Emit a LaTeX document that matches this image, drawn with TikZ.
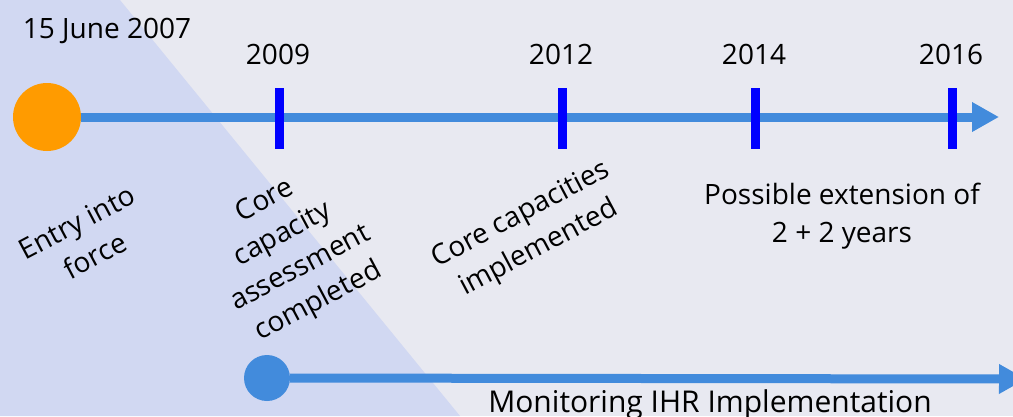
\documentclass[tikz,border=0pt]{standalone}
\usepackage{fontspec}
\setmainfont{Open Sans}
\usetikzlibrary{arrows.meta}

\definecolor{bgGrey}{HTML}{E8E9F1}
\definecolor{bgLilac}{HTML}{D1D8F2}
\definecolor{lineBlue}{HTML}{428BDC}
\definecolor{dotOrange}{HTML}{FF9B00}
\definecolor{tickBlue}{HTML}{0000FF}

\begin{document}
\begin{tikzpicture}[x=1pt,y=-1pt,
  Dot/.style   = {circle, inner sep=0pt, minimum size=#1},
  Tick/.style  = {rectangle, fill=tickBlue, inner sep=0pt,
                  minimum width=9pt, minimum height=61pt},
  Year/.style  = {anchor=base, inner sep=0pt, font=\fontsize{28}{38}\selectfont},
  Note/.style  = {align=center, inner sep=0pt, font=\fontsize{28}{38}\selectfont},
  Axis/.style  = {line width=9pt, color=lineBlue,
                  -{Triangle[length=27pt,width=28pt]}}]

  \clip (0,0) rectangle (1013,416);
  \fill[bgGrey]  (0,0) rectangle (1013,416);
  \fill[bgLilac] (0,0) -- (120,0) -- (460,416) -- (0,416) -- cycle;

%%% main time line

   \node[Dot=68pt, fill=dotOrange] (entry) at (47,117) {};
   \coordinate (axisEnd) at (999,117);
   \draw[Axis] (entry) -- (axisEnd);

   \foreach \yr/\x in {2009/279, 2012/562, 2014/755, 2016/952}{
     \node[Tick] (t\yr) at (\x,118) {};
     \node[Year] (y\yr) at (\x-1,64) {\yr};
   }
   \node[Year] (y2007) at (107,38) {15 June 2007};

%%% milestones

   \node[Note, rotate=28] (entryTxt)  at (86,239)  {Entry into\\force};
   \node[Note, rotate=28] (assessTxt) at (292,252) {Core\\capacity\\assessment\\completed};
   \node[Note, rotate=28] (coreTxt)   at (530,232) {Core capacities\\implemented};
   \node[Note]            (extTxt)    at (842,216) {Possible extension of\\2 + 2 years};

%%% monitoring line

   \node[Dot=46pt, fill=lineBlue] (monitor) at (267,378) {};
   \coordinate (monEnd) at (1026,379);
   \draw[Axis] (monitor) -- (monEnd);
   \node[Year, font=\fontsize{30}{38}\selectfont] (monTxt) at (710,412) {Monitoring IHR Implementation};

\end{tikzpicture}
\end{document}
